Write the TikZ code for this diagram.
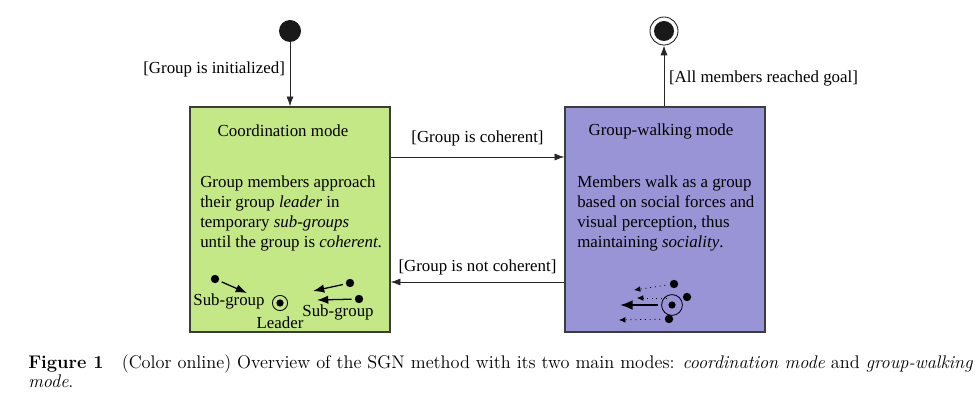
\documentclass[tikz,border=0pt]{standalone}
\usepackage{fontspec}
\newfontfamily\figfont{Liberation Serif}
\usetikzlibrary{arrows.meta,calc,positioning}
\definecolor{coordgreen}{RGB}{197,232,134}
\definecolor{walkpurple}{RGB}{152,148,214}
\definecolor{boxborder}{RGB}{60,60,60}
\begin{document}
\begin{tikzpicture}[x=0.025cm, y=-0.025cm,
    every node/.style={font=\figfont\fontsize{12}{14.2}\selectfont},
    modebox/.style={draw=boxborder, line width=0.8pt, minimum width=5cm, minimum height=5.625cm, inner sep=0pt},
    bodytext/.style={align=left, inner sep=0pt, anchor=north west},
    transition/.style={-{Latex[length=7pt,width=5pt]}, line width=0.6pt, draw=black!85},
    initstate/.style={circle, fill=black!90, inner sep=0pt, minimum size=0.55cm},
    goalstate/.style={circle, draw=black!90, fill=white, line width=0.6pt, inner sep=0pt, minimum size=0.7cm,
        path picture={\fill[black!90] (path picture bounding box.center) circle (0.25cm);}},
    dot/.style={circle, fill=black, inner sep=0pt, minimum size=0.21cm},
    leader/.style={circle, draw, line width=0.6pt, inner sep=0pt, minimum size=#1,
        path picture={\fill (path picture bounding box.center) circle (0.09cm);}},
    move/.style={-{Latex[length=8pt,width=6pt]}, line width=0.9pt, shorten <=2pt},
    follow/.style={-{Latex[length=4.5pt,width=4pt]}, line width=0.5pt, dash pattern=on 0.8pt off 2.6pt, shorten <=3pt}
]
\useasboundingbox (0,0) rectangle (979,400);

% Estados
\node[initstate] (start) at (290,31) {};
\node[goalstate] (goal) at (664,31) {};
\node[modebox, fill=coordgreen] (coord) at (290,219.5) {};
\node[modebox, fill=walkpurple] (walk) at (665,219.5) {};

% Textos das caixas
\node (coordtitle) at (283,131) {Coordination mode};
\node (walktitle) at (661,131) {Group-walking mode};
\node[bodytext] (coordtext) at (200,176) {Group members approach\\ their group \textit{leader} in\\ temporary \textit{sub-groups}\\ until the group is \textit{coherent}.};
\node[bodytext] (walktext) at (577,176) {Members walk as a group\\ based on social forces and\\ visual perception, thus\\ maintaining \textit{sociality}.};

% Transicoes
\draw[transition] (start) -- node[pos=0.42, left] {[Group is initialized]} (coord);
\draw[transition] (walk.north -| goal) -- node[pos=0.45, right] {[All members reached goal]} (goal);
\draw[transition] ($(coord.east)+(0,-62.5)$) -- node[midway, above=4pt] {[Group is coherent]} ($(walk.west)+(0,-62.5)$);
\draw[transition] ($(walk.west)+(0,62.5)$) -- node[midway, above=1.5pt] {[Group is not coherent]} ($(coord.east)+(0,62.5)$);

% Sub-grupos e lider (coordenacao)
\node[leader=0.38cm] (cleader) at (280,303) {};
\node (cleaderlabel) at (280,323) {Leader};
\node[dot] (sa) at (215,279) {};
\coordinate (sa-end) at (247,293);
\draw[move] (sa) -- (sa-end);
\node (salabel) at (229,301) {Sub-group};
\node[dot] (sb) at (350,283) {};
\coordinate (sb-end) at (313,291);
\draw[move] (sb) -- (sb-end);
\node[dot] (sc) at (359,299) {};
\coordinate (sc-end) at (317,300);
\draw[move] (sc) -- (sc-end);
\node (sclabel) at (338,312) {Sub-group};

% Grupo andando
\node[leader=0.52cm] (wleader) at (672,305) {};
\coordinate (wleader-end) at (620,305);
\draw[-{Latex[length=9pt,width=7pt]}, line width=1.4pt, shorten <=2pt] (wleader) -- (wleader-end);
\node[dot] (wa) at (674,284) {};
\coordinate (wa-end) at (634,290);
\draw[follow] (wa) -- (wa-end);
\coordinate (wb-start) at (667,298);
\coordinate (wb-end) at (637,298);
\draw[follow, shorten <=0pt] (wb-start) -- (wb-end);
\node[dot] (wb) at (687,297) {};
\node[dot] (wc) at (669,319) {};
\coordinate (wc-end) at (619,320);
\draw[follow] (wc) -- (wc-end);

% Legenda
\node[anchor=base west, inner sep=0pt, align=left, font=\fontsize{13}{13.5}\selectfont] (caption) at (28,387)
    {\textbf{Figure 1}\quad (Color online) Overview of the SGN method with its two main modes: \textit{coordination mode} and \textit{group-walking}\\ \textit{mode}.};
\end{tikzpicture}
\end{document}
